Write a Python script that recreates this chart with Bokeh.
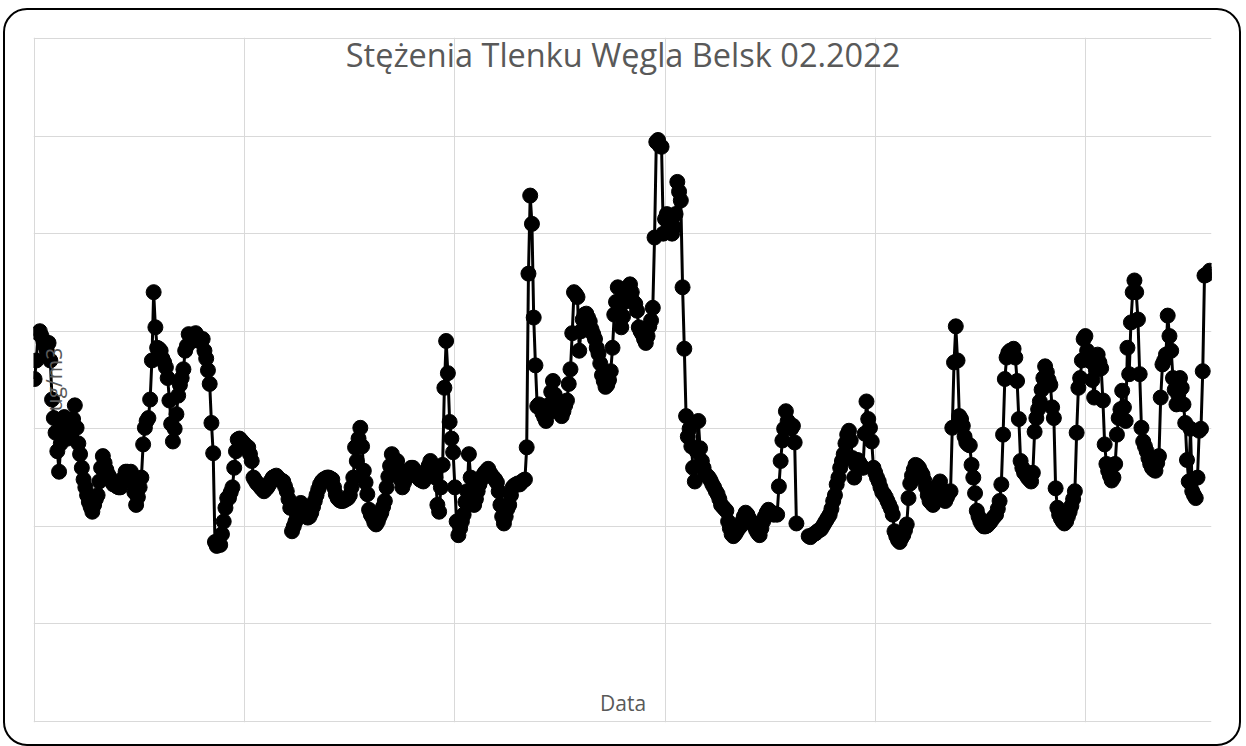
from bokeh.plotting import figure
from bokeh.models import Label, FixedTicker, Range1d
from bokeh.embed import file_html
from bokeh.resources import INLINE

nan = float("nan")

# Hourly CO concentrations (ug/m3), Belsk, February 2022 - one list per day
feb01 = [351, 370, 398, 400, 395, 390, 385, 380, 388, 370, 330, 311, 296, 277, 256, 285, 300, 312, 298, 290, 300, 295, 310, 324]
feb02 = [301, 285, 274, 260, 248, 240, 232, 225, 220, 215, 222, 228, 232, 246, 260, 272, 265, 258, 253, 250, 246, 243, 243, 241]
feb03 = [240, 240, 245, 250, 256, 256, 252, 256, 245, 235, 222, 230, 240, 250, 284, 301, 308, 311, 330, 370, 440, 404, 383, 382]
feb04 = [380, 372, 368, 363, 352, 329, 305, 287, 300, 315, 334, 345, 352, 361, 380, 385, 397, 395, 390, 392, 398, 395, 390, 392]
feb05 = [392, 380, 372, 360, 346, 306, 275, 184, 180, 183, 181, 192, 205, 219, 229, 229, 235, 240, 260, 277, 289, 290, 288, 286]
feb06 = [284, 281, 281, 274, 267, 250, 247, 244, 243, 240, 238, 236, 238, 240, 243, 247, 250, 251, 252, 250, 248, 247, 246, 241]
feb07 = [236, 228, 219, 195, 200, 205, 212, 220, 224, 221, 219, 213, 209, 210, 214, 220, 226, 232, 238, 243, 246, 248, 249, 250]
feb08 = [250, 249, 248, 240, 233, 229, 227, 226, 226, 227, 228, 229, 232, 240, 250, 281, 267, 290, 301, 282, 257, 245, 233, 217]
feb09 = [212, 209, 204, 202, 205, 210, 214, 220, 226, 240, 251, 262, 274, 266, 262, 267, 258, 248, 240, 245, 250, 254, 258, 260]
feb10 = [260, 256, 253, 250, 248, 247, 246, 252, 258, 262, 267, 262, 257, 250, 222, 215, 240, 263, 342, 390, 357, 307, 290, 276]
feb11 = [240, 205, 191, 198, 205, 212, 225, 236, 274, 250, 230, 222, 228, 236, 243, 248, 252, 255, 257, 259, 255, 252, 250, 248]
feb12 = [245, 236, 222, 210, 203, 210, 218, 222, 232, 240, 242, 243, 244, 243, 245, 247, 248, 281, 459, 539, 510, 414, 365, 323]
feb13 = [325, 322, 316, 312, 308, 315, 325, 338, 349, 335, 325, 320, 316, 313, 318, 324, 329, 346, 361, 398, 440, 438, 435, 380]
feb14 = [400, 412, 417, 418, 414, 410, 402, 397, 392, 383, 377, 367, 355, 349, 343, 345, 350, 359, 383, 417, 430, 445, 425, 404]
feb15 = [415, 430, 440, 445, 448, 440, 430, 428, 421, 404, 400, 397, 392, 388, 395, 405, 411, 424, 496, 594, 596, 590, 589, 500]
feb16 = [515, 520, 513, 505, 500, 507, 520, 553, 543, 534, 445, 382, 313, 292, 300, 282, 260, 246, 277, 308, 280, 267, 260, 253]
feb17 = [252, 250, 247, 243, 240, 236, 233, 228, 222, 220, 218, 216, 205, 198, 192, 190, 192, 195, 198, 200, 205, 210, 214, 212]
feb18 = [208, 205, 203, 200, 196, 193, 191, 198, 205, 210, 214, 217, 215, 213, 212, 213, 212, 241, 267, 288, 300, 318, 308, 303]
feb19 = [300, 303, 286, 203, nan, nan, nan, nan, nan, nan, 190, 189, 191, 192, 193, 195, 196, 197, 200, 203, 206, 209, 212, 218]
feb20 = [226, 232, 243, 250, 260, 267, 274, 285, 294, 298, 288, 270, 250, 263, 268, 265, 262, 260, 295, 328, 310, 301, 287, 260]
feb21 = [255, 250, 246, 240, 235, 233, 230, 226, 222, 218, 212, 195, 190, 186, 184, 188, 191, 196, 202, 229, 244, 252, 258, 263]
feb22 = [262, 260, 256, 253, 247, 240, 232, 226, 224, 222, 228, 236, 242, 246, 238, 230, 226, 230, 234, 236, 301, 368, 405, 370]
feb23 = [313, 310, 303, 292, 286, 284, 283, 263, 250, 234, 216, 210, 205, 202, 200, 200, 201, 203, 205, 208, 210, 212, 218, 226]
feb24 = [243, 294, 351, 373, 378, 380, 377, 382, 373, 349, 310, 267, 260, 255, 253, 250, 248, 246, 255, 297, 311, 320, 328, 340]
feb25 = [352, 364, 358, 350, 345, 322, 311, 239, 219, 212, 208, 205, 203, 205, 210, 215, 221, 228, 236, 296, 342, 352, 370, 392]
feb26 = [395, 380, 372, 369, 350, 332, 360, 376, 368, 362, 329, 284, 264, 257, 252, 247, 250, 264, 294, 311, 320, 339, 322, 308]
feb27 = [383, 356, 409, 440, 452, 440, 412, 356, 301, 287, 282, 277, 270, 264, 260, 258, 257, 265, 272, 332, 366, 370, 376, 416]
feb28 = [395, 380, 352, 340, 325, 335, 352, 342, 325, 306, 268, 246, 300, 236, 232, 229, 250, 298, 300, 359, 457, 458, 459, 462]

TITLE = "Stężenia Tlenku Węgla Belsk 02.2022"
X_LABEL = "Data"
Y_LABEL = "ug/m3"
x_grid_days = [0, 5, 10, 15, 20, 25]
y_grid_values = [0, 100, 200, 300, 400, 500, 600, 700]

days = [feb01, feb02, feb03, feb04, feb05, feb06, feb07, feb08, feb09, feb10,
        feb11, feb12, feb13, feb14, feb15, feb16, feb17, feb18, feb19, feb20,
        feb21, feb22, feb23, feb24, feb25, feb26, feb27, feb28]
values = [v for d in days for v in d]
xs = [h / 24.0 for h in range(len(values))]

p = figure(width=1238, height=738,
           x_range=Range1d(-0.025, 28.0), y_range=Range1d(-1, 701),
           output_backend="svg", toolbar_location=None,
           min_border_left=28, min_border_right=32,
           min_border_top=27, min_border_bottom=26)
p.styles = {"margin": "8px 0px 0px 3px",
            "border": "2px solid black", "border-radius": "24px"}
p.background_fill_color = None
p.border_fill_color = None
p.outline_line_color = None
p.xaxis.visible = False
p.yaxis.visible = False

p.xgrid.ticker = FixedTicker(ticks=x_grid_days)
p.ygrid.ticker = FixedTicker(ticks=y_grid_values)
for g in (p.xgrid, p.ygrid):
    g.grid_line_color = "#d9d9d9"
    g.grid_line_width = 1

p.line(xs, values, line_color="black", line_width=3)
p.scatter(xs, values, size=15, fill_color="black", line_color="black")

p.add_layout(Label(x=14.0, y=683.2, text=TITLE, text_font="Open Sans",
                   text_font_size="32.5px", text_color="#595959",
                   text_align="center", text_baseline="alphabetic"))
p.add_layout(Label(x=14.0, y=18.5, text=X_LABEL, text_font="Open Sans",
                   text_font_size="21px", text_color="#595959",
                   text_align="center", text_baseline="alphabetic"))
p.add_layout(Label(x=0.451, y=350.5, text=Y_LABEL, text_font="Open Sans",
                   text_font_size="21px", text_color="#595959",
                   text_align="center", text_baseline="middle",
                   angle=1.5707963))

open("out.html", "w").write(file_html(p, INLINE))
